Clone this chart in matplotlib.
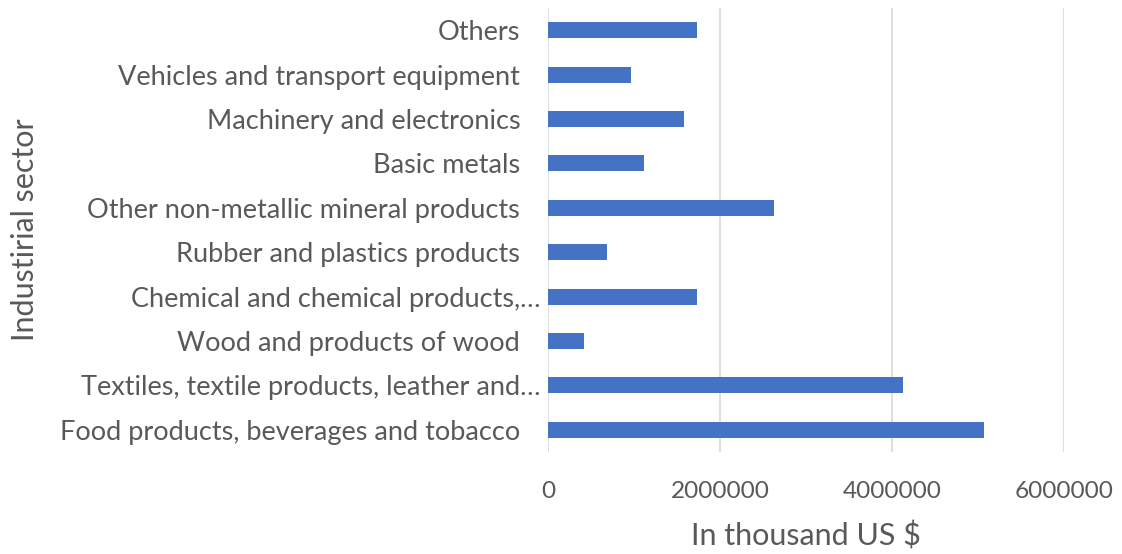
import matplotlib.pyplot as plt
from matplotlib.transforms import ScaledTranslation

# Exports by industrial sector (in thousand US $)
sectors = ['Food products, beverages and tobacco',
           'Textiles, textile products, leather and…',
           'Wood and products of wood',
           'Chemical and chemical products,…',
           'Rubber and plastics products',
           'Other non-metallic mineral products',
           'Basic metals',
           'Machinery and electronics',
           'Vehicles and transport equipment',
           'Others']
values = [5064000, 4133000, 413000, 1733000, 690000,
          2628000, 1115000, 1580000, 969000, 1733000]
xticks = [0, 2000000, 4000000, 6000000]

plt.rcParams['font.family'] = ['Lato', 'DejaVu Sans']
text_col = '#595959'

fig = plt.figure(figsize=(11.22, 5.54), dpi=100)
ax = fig.add_axes([548 / 1122, 1 - 452 / 554, (1064 - 548) / 1122, 444 / 554])

ax.barh(range(len(sectors)), values, height=0.36, color='#4472C4', zorder=3)
ax.set_ylim(-0.5, len(sectors) - 0.5)
ax.set_xlim(0, 6000000)
ax.set_xticks(xticks)
ax.set_xticklabels([str(v) for v in xticks])
ax.set_yticks(range(len(sectors)))
ax.set_yticklabels(sectors)

ax.grid(axis='x', color='#d9d9d9', linewidth=1.2, zorder=0)
for s in ax.spines.values():
    s.set_visible(False)
ax.tick_params(length=0, labelcolor=text_col)
ax.tick_params(axis='y', pad=20, labelsize=19.5)
ax.tick_params(axis='x', pad=21, labelsize=17.6)

# truncated labels sit a bit further right, as in the original
for lab in ax.get_yticklabels():
    if lab.get_text().endswith('…'):
        lab.set_transform(lab.get_transform() + ScaledTranslation(20 / 100, 0, fig.dpi_scale_trans))

ax.set_xlabel('In thousand US $', fontsize=22, color=text_col, labelpad=14)
fig.text(25 / 1122, 1 - 230 / 554, 'Industirial sector', rotation=90,
         fontsize=22, color=text_col, ha='center', va='center')

fig.savefig('out.png', dpi=100)
